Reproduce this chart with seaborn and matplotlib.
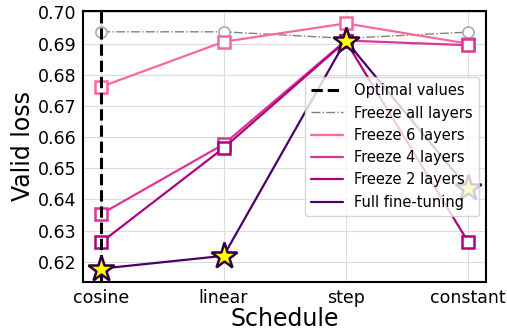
import numpy as np
import pandas as pd
import matplotlib
matplotlib.use("Agg")
import matplotlib.pyplot as plt
import seaborn as sns

# Valid loss per learning-rate schedule.
schedules = ["cosine", "linear", "step", "constant"]
freeze_all = [0.6938, 0.6938, 0.6917, 0.6937]
freeze_6 = [0.6762, 0.6906, 0.6965, 0.6900]
freeze_4 = [0.6354, 0.6577, 0.6910, 0.6895]
freeze_2 = [0.6263, 0.6565, 0.6908, 0.6265]
full_ft = [0.6178, 0.6219, 0.6910, 0.6436]
optimal_schedule = "cosine"

sns.set_style("whitegrid", {"grid.color": "#dcdcdc", "text.color": "black",
                            "axes.labelcolor": "black",
                            "xtick.color": "black", "ytick.color": "black"})
plt.rcParams["font.family"] = ["DejaVu Sans"]

fig = plt.figure(figsize=(5.07, 3.31), dpi=100)
ax = fig.add_axes([0.164, 0.148, 0.795, 0.819])

ax.axvline(schedules.index(optimal_schedule), color="black", ls="--", lw=2.2,
           label="Optimal values", zorder=4)

sns.lineplot(x=schedules, y=freeze_all, ax=ax, color="grey", lw=1, ls="-.",
             marker="o", markersize=8, markerfacecolor="white",
             markeredgecolor="darkgrey", markeredgewidth=1.2,
             label="Freeze all layers")

square_series = [
    ("Freeze 6 layers", freeze_6, "#f768a1"),
    ("Freeze 4 layers", freeze_4, "#dd3497"),
    ("Freeze 2 layers", freeze_2, "#ae017e"),
]
for name, vals, col in square_series:
    sns.lineplot(x=schedules, y=vals, ax=ax, color=col, lw=1.6,
                 marker="s", markersize=9, markerfacecolor="white",
                 markeredgecolor=col, markeredgewidth=1.8, label=name)

sns.lineplot(x=schedules, y=full_ft, ax=ax, color="#49006a", lw=1.6,
             marker="*", markersize=20, markerfacecolor="yellow",
             markeredgecolor="#2d0040", markeredgewidth=1.8,
             label="Full fine-tuning", zorder=5)

ax.set_ylim(0.6135, 0.7005)
ax.set_xlim(-0.15, 3.15)
ax.set_yticks(np.arange(0.62, 0.7001, 0.01))
ax.yaxis.set_major_formatter(matplotlib.ticker.FormatStrFormatter("%.2f"))
ax.set_xlabel("Schedule", fontsize=17, labelpad=0)
ax.set_ylabel("Valid loss", fontsize=17, labelpad=2)
ax.tick_params(axis="both", labelsize=12.5, length=3, width=1, color="black",
               labelcolor="black", pad=2)
for s in ax.spines.values():
    s.set_color("black")
    s.set_linewidth(1.5)

# legend shows plain lines, no markers
handles, labels = ax.get_legend_handles_labels()
ax.legend(handles, labels, loc="center right", fontsize=10.5, framealpha=0.8,
          handlelength=2.2)
leg = ax.get_legend()
for h in leg.get_lines():
    h.set_marker("")

fig.savefig("out.png", dpi=100)
